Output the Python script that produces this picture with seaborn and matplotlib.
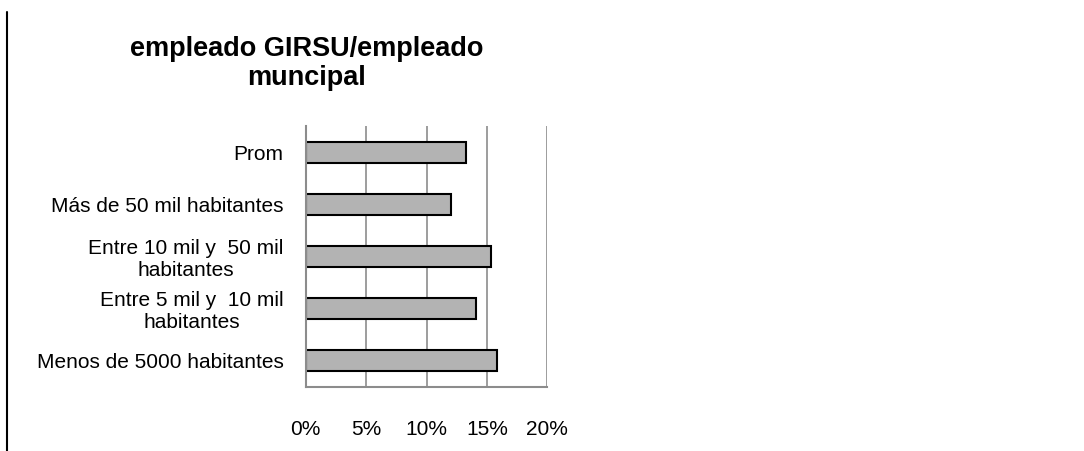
import pandas as pd
import seaborn as sns
import matplotlib.pyplot as plt
from matplotlib.lines import Line2D
from matplotlib.ticker import FuncFormatter

# data (share of GIRSU staff over municipal staff)
categories = [
    "Prom",
    "Más de 50 mil habitantes",
    "Entre 10 mil y  50 mil\nhabitantes",
    "Entre 5 mil y  10 mil\nhabitantes",
    "Menos de 5000 habitantes",
]
values = [0.133, 0.120, 0.153, 0.141, 0.158]
xticks = [0, 0.05, 0.10, 0.15, 0.20]

df = pd.DataFrame({"categoria": categories, "valor": values})

sns.set_style("white")
plt.rcParams["font.family"] = ["Liberation Sans", "DejaVu Sans"]
plt.rcParams["text.color"] = "black"
plt.rcParams["xtick.color"] = "black"
plt.rcParams["ytick.color"] = "black"

fig = plt.figure(figsize=(10.84, 4.51), dpi=100)
ax = fig.add_axes([0.282, 0.1426, 0.223, 0.578])

sns.barplot(data=df, x="valor", y="categoria", order=categories, orient="h",
            color="#b3b3b3", edgecolor="black", linewidth=1.5, width=0.4,
            saturation=1, ax=ax)

ax.set_xlim(0, 0.20)
ax.set_xticks(xticks)
ax.xaxis.set_major_formatter(FuncFormatter(lambda v, p: f"{v*100:.0f}%"))
ax.grid(axis="x", color="#8c8c8c", linewidth=1.2)
ax.set_axisbelow(True)
ax.set_xlabel("")
ax.set_ylabel("")

for s in ["top", "right"]:
    ax.spines[s].set_visible(False)
for s in ["left", "bottom"]:
    ax.spines[s].set_color("#8c8c8c")
    ax.spines[s].set_linewidth(1.5)

ax.tick_params(axis="x", length=0, pad=24, labelsize=15, labelcolor="black")
ax.tick_params(axis="y", length=0, pad=16, labelsize=15, labelcolor="black")
for lab in ax.get_yticklabels():
    lab.set_multialignment("center")

fig.text(0.283, 1 - 36 / 451, "empleado GIRSU/empleado\nmuncipal",
         ha="center", va="top", fontsize=19.5, fontweight="bold",
         linespacing=1.15, color="black")

# left border line of the original frame
fig.add_artist(Line2D([7 / 1084, 7 / 1084], [0, 1 - 12 / 451],
                      transform=fig.transFigure, color="black", linewidth=1.5))

fig.savefig("out.png", dpi=100)
